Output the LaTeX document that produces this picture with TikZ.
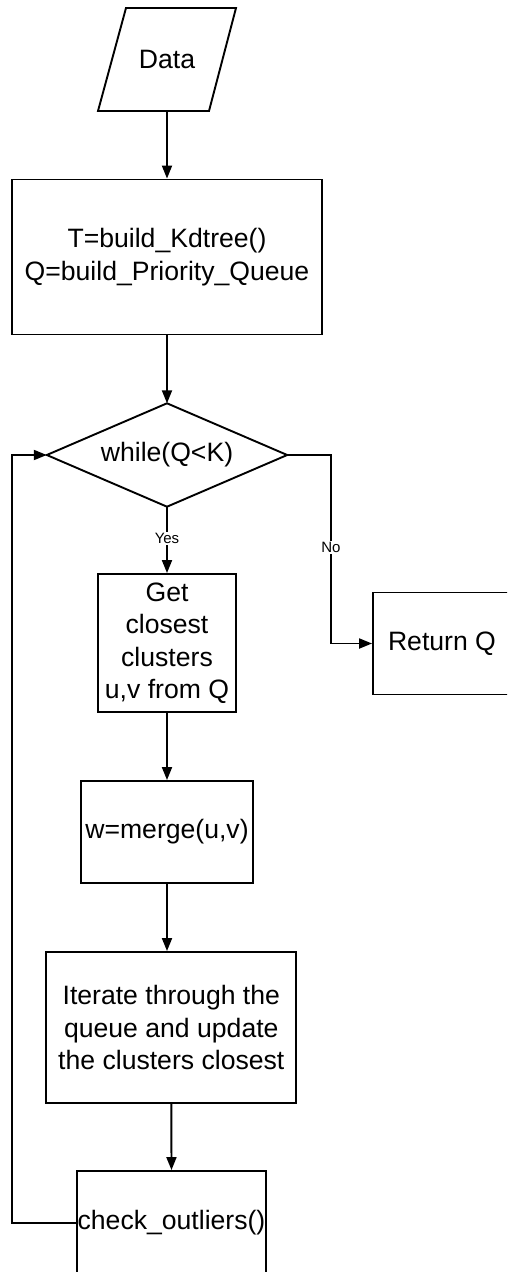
\documentclass[tikz,border=0pt]{standalone}
\usepackage{fontspec}
\setmainfont{Liberation Sans}
\usetikzlibrary{arrows.meta,calc}

\tikzset{
  procbox/.style={draw=black, line width=1.9pt, rectangle, align=center,
                  inner sep=0pt, font=\fontsize{26.6}{32.5}\selectfont},
  plain/.style={inner sep=0pt, font=\fontsize{26.6}{32.5}\selectfont},
  outline/.style={draw=black, line width=1.9pt, line join=miter},
  flow/.style={draw=black, line width=1.9pt, -{Triangle[length=13pt,width=10pt]}},
  branch/.style={fill=white, inner sep=1.5pt, font=\fontsize{15}{17}\selectfont},
}

\begin{document}
\begin{tikzpicture}[x=1pt,y=-1pt]
  \useasboundingbox (0,0) rectangle (507,1272);
  \clip (0,0) rectangle (507,1272);

  % input: data (parallelogram)
  \node[plain, minimum width=110, minimum height=103] (data) at (167,59.5) {Data};
  \draw[outline] (126,8) -- (236,8) -- (209,111) -- (98,111) -- cycle;

  % initialisation
  \node[procbox, minimum width=310, minimum height=155] (init) at (167,257)
    {T=build\_Kdtree()\\Q=build\_Priority\_Queue};

  % loop test (diamond through the box's side midpoints)
  \node[plain, minimum width=240, minimum height=103] (test) at (167,455)
    {while(Q<K)};
  \draw[outline] (test.north) -- (test.east) -- (test.south) -- (test.west) -- cycle;

  % loop body
  \node[procbox, minimum width=138, minimum height=138] (get) at (167,643)
    {Get\\closest\\clusters\\u,v from Q};
  \node[procbox, minimum width=172, minimum height=102] (merge) at (167,832)
    {w=merge(u,v)};
  \node[procbox, minimum width=250, minimum height=151] (iter) at (171.3,1027.5)
    {Iterate through the\\queue and update\\the clusters closest};
  \node[procbox, minimum width=189, minimum height=104] (check) at (171.5,1223)
    {check\_outliers()};

  % exit
  \node[procbox, minimum width=138, minimum height=102] (ret) at (442,643.5)
    {Return Q};

  % connectors
  \draw[flow] (data.south) -- (init.north);
  \draw[flow] (init.south) -- (test.north);
  \draw[flow] (test.south) -- node[branch, pos=0.48] {Yes} (get.north);
  \draw[flow] (get.south) -- (merge.north);
  \draw[flow] (merge.south) -- (merge.south |- iter.north);
  \draw[flow] (iter.south) -- (check.north);

  \coordinate (noturn) at (331,455);
  \draw[flow] (test.east) -- (noturn) -- node[branch, pos=0.49] {No} (noturn |- ret.west) -- (ret.west);

  \coordinate (backturn) at (12,1223);
  \draw[flow] (check.west) -- (backturn) -- (backturn |- test.west) -- (test.west);
\end{tikzpicture}
\end{document}
